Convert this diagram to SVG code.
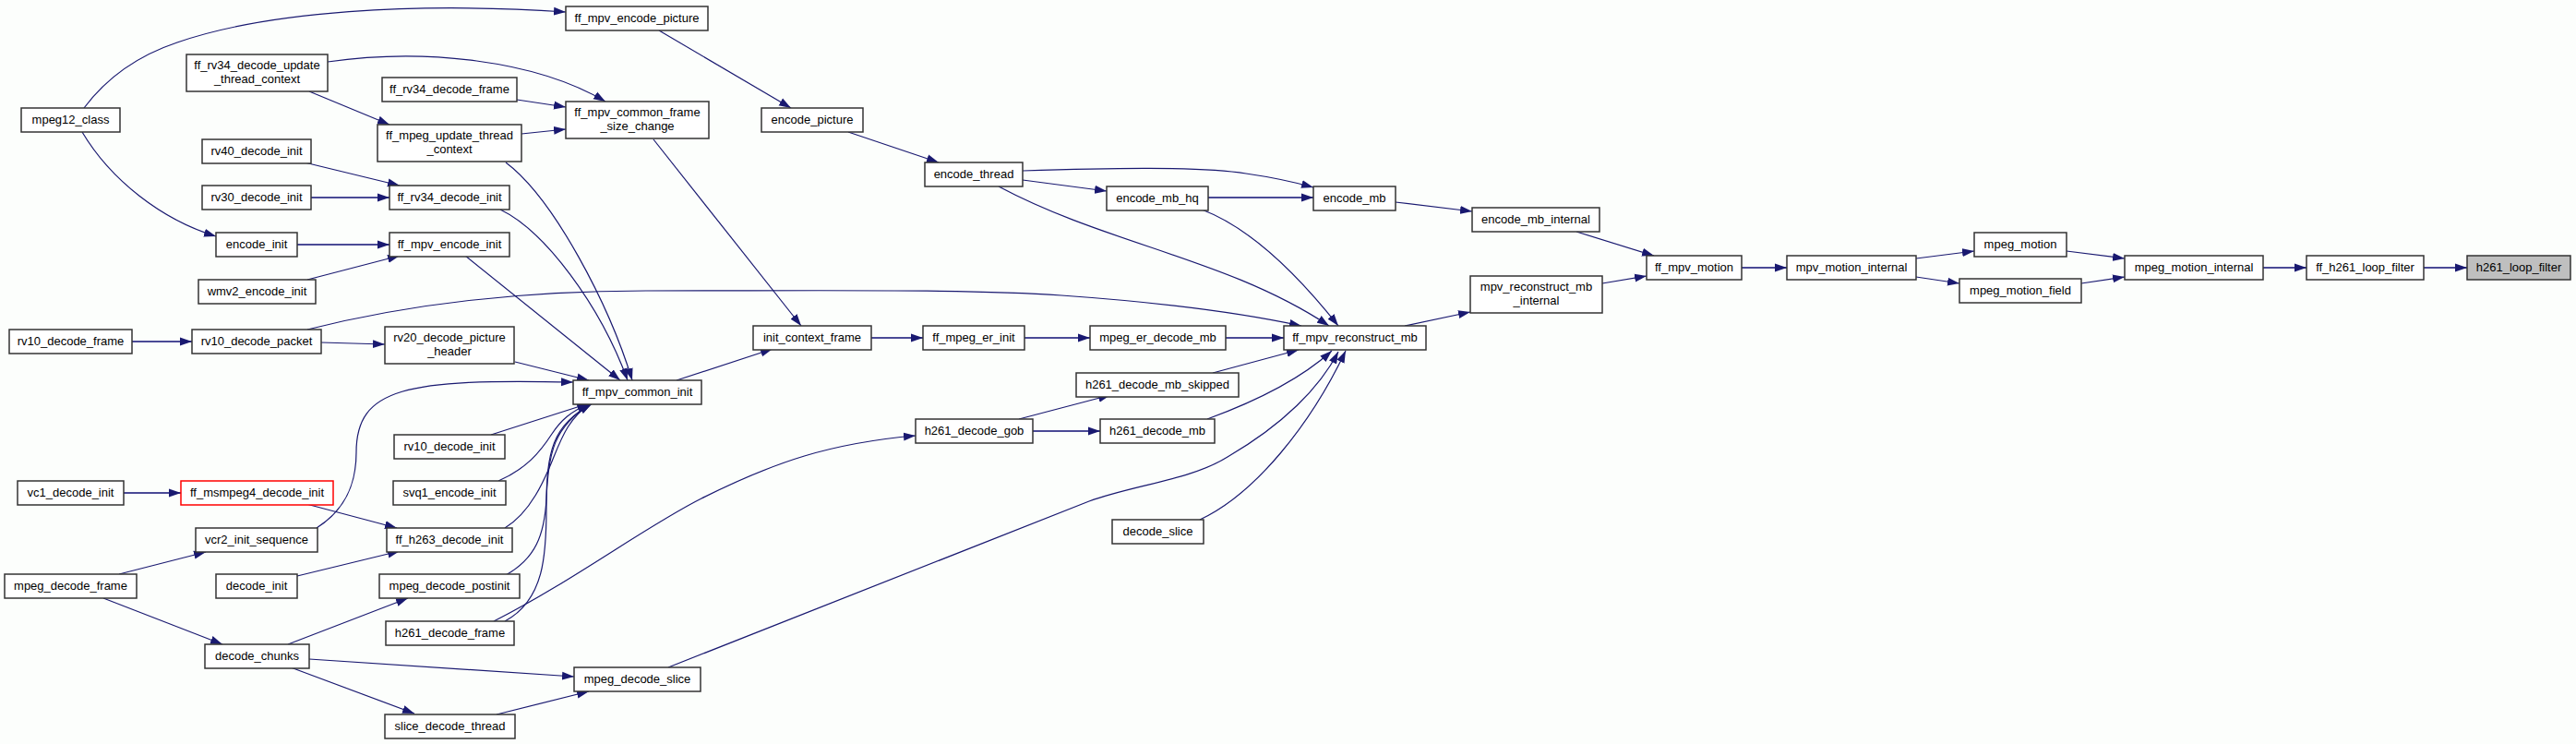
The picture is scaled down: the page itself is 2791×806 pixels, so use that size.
<svg xmlns="http://www.w3.org/2000/svg" width="2791" height="806" viewBox="0 0 2791 806">
<defs>
<style>
.n rect{fill:#ffffff;stroke:#333333;stroke-width:1.5}
.n rect.red{stroke:#ff0000}
.n rect.cur{fill:#bfbfbf}
.n text{font-family:"Liberation Sans",Arial,sans-serif;font-size:13px;text-anchor:middle;fill:#000000}
.e path{fill:none;stroke:#191970;stroke-width:1.2;marker-end:url(#a)}
.e path.h{stroke:#4a4a96;stroke-width:2}
</style>
<marker id="a" markerUnits="userSpaceOnUse" markerWidth="14" markerHeight="10" refX="13" refY="5" orient="auto" viewBox="0 0 14 10"><path d="M0,0.5 L13,5 L0,9.5 Z" fill="#191970"/></marker>
</defs>
<rect x="0" y="0" width="2791" height="806" fill="#fcfefc"/>
<g id="edges" class="e">
<path d="M91,117 C115,85 150,60 192,46 C290,12 450,2 613,13"/>
<path d="M89,143 C120,195 175,238 234,256"/>
<path d="M355,67 C460,52 580,65 656,110"/>
<path d="M335,99 L422,135"/>
<path d="M560,108 L613,116"/>
<path d="M565,145 L613,140"/>
<path d="M548,176 C600,215 660,330 685,412"/>
<path d="M330,176 L433,201"/>
<path class="h" d="M337,214 L422,214"/>
<path d="M542,227 C590,250 650,330 680,412"/>
<path class="h" d="M322,265 L422,265"/>
<path d="M333,303 L433,277"/>
<path d="M504,277 L672,412"/>
<path d="M333,357 C440,330 560,315 700,315 C900,315 1050,313 1150,320 C1250,327 1340,338 1410,353"/>
<path class="h" d="M143,370 L208,370"/>
<path d="M348,371 L417,373"/>
<path d="M558,392 L638,412"/>
<path d="M714,33 L857,117"/>
<path d="M708,151 L868,353"/>
<path d="M919,143 L1017,176"/>
<path d="M1108,185 C1200,182 1300,180 1350,188 C1385,193 1405,198 1423,203"/>
<path d="M1108,195 L1199,207"/>
<path d="M1082,202 C1200,265 1330,280 1440,353"/>
<path class="h" d="M1309,214 L1423,214"/>
<path d="M1302,227 C1350,245 1400,290 1450,353"/>
<path d="M1512,219 L1595,229"/>
<path d="M1708,251 L1792,277"/>
<path d="M1522,353 L1593,338"/>
<path d="M1736,307 L1784,299"/>
<path class="h" d="M1887,290 L1936,290"/>
<path d="M2076,280 L2139,272"/>
<path d="M2076,300 L2123,307"/>
<path d="M2239,272 L2302,280"/>
<path d="M2255,307 L2302,300"/>
<path class="h" d="M2452,290 L2499,290"/>
<path class="h" d="M2626,290 L2673,290"/>
<path d="M733,412 L837,378"/>
<path class="h" d="M944,366 L1000,366"/>
<path class="h" d="M1110,366 L1181,366"/>
<path class="h" d="M1328,366 L1391,366"/>
<path d="M1314,404 L1407,379"/>
<path d="M1308,454 C1360,435 1410,410 1443,380"/>
<path d="M1300,563 C1360,535 1420,460 1458,380"/>
<path d="M724,723 L1180,543 C1230,525 1290,520 1330,495 C1390,460 1430,420 1450,381"/>
<path d="M1104,454 L1203,428"/>
<path class="h" d="M1119,467 L1192,467"/>
<path d="M535,673 C620,630 700,570 760,540 C840,500 900,480 992,472"/>
<path d="M547,673 C590,650 592,600 592,550 C592,490 598,460 642,437"/>
<path class="h" d="M134,534 L196,534"/>
<path d="M332,546 L430,572"/>
<path d="M343,572 C370,555 386,530 386,490 C386,420 440,410 621,414"/>
<path d="M322,624 L433,597"/>
<path d="M547,572 C575,555 590,520 600,495 C610,470 618,452 640,437"/>
<path d="M129,622 L223,598"/>
<path d="M112,648 L241,698"/>
<path d="M312,698 L442,648"/>
<path d="M335,714 L622,733"/>
<path d="M315,723 L449,773"/>
<path d="M538,774 L638,749"/>
<path d="M548,623 C580,605 590,580 592,540 C594,490 600,462 641,437"/>
<path d="M532,471 L638,437"/>
<path d="M540,521 C570,508 585,490 598,470 C608,455 618,446 639,437"/>
</g>
<g id="mpeg12_class" class="n"><rect x="23" y="117" width="107" height="26"/><text x="76.5" y="134">mpeg12_class</text></g>
<g id="rv10_decode_frame" class="n"><rect x="10" y="357" width="133" height="26"/><text x="76.5" y="374">rv10_decode_frame</text></g>
<g id="vc1_decode_init" class="n"><rect x="19" y="521" width="115" height="26"/><text x="76.5" y="538">vc1_decode_init</text></g>
<g id="mpeg_decode_frame" class="n"><rect x="5" y="622" width="143" height="26"/><text x="76.5" y="639">mpeg_decode_frame</text></g>
<g id="ff_rv34_decode_update_thread_context" class="n"><rect x="202" y="59" width="153" height="40"/><text x="278.5" y="75">ff_rv34_decode_update</text><text x="278.5" y="90">_thread_context</text></g>
<g id="rv40_decode_init" class="n"><rect x="219" y="151" width="118" height="26"/><text x="278" y="168">rv40_decode_init</text></g>
<g id="rv30_decode_init" class="n"><rect x="219" y="201" width="118" height="26"/><text x="278" y="218">rv30_decode_init</text></g>
<g id="encode_init" class="n"><rect x="234" y="252" width="88" height="26"/><text x="278" y="269">encode_init</text></g>
<g id="wmv2_encode_init" class="n"><rect x="215" y="303" width="127" height="26"/><text x="278.5" y="320">wmv2_encode_init</text></g>
<g id="rv10_decode_packet" class="n"><rect x="208" y="357" width="140" height="26"/><text x="278" y="374">rv10_decode_packet</text></g>
<g id="ff_msmpeg4_decode_init" class="n"><rect class="red" x="196" y="521" width="165" height="26"/><text x="278.5" y="538">ff_msmpeg4_decode_init</text></g>
<g id="vcr2_init_sequence" class="n"><rect x="212" y="572" width="132" height="26"/><text x="278" y="589">vcr2_init_sequence</text></g>
<g id="decode_init" class="n"><rect x="234" y="622" width="88" height="26"/><text x="278" y="639">decode_init</text></g>
<g id="decode_chunks" class="n"><rect x="222" y="698" width="113" height="26"/><text x="278.5" y="715">decode_chunks</text></g>
<g id="ff_rv34_decode_frame" class="n"><rect x="414" y="84" width="146" height="26"/><text x="487" y="101">ff_rv34_decode_frame</text></g>
<g id="ff_mpeg_update_thread_context" class="n"><rect x="409" y="135" width="156" height="40"/><text x="487" y="151">ff_mpeg_update_thread</text><text x="487" y="166">_context</text></g>
<g id="ff_rv34_decode_init" class="n"><rect x="422" y="201" width="130" height="26"/><text x="487" y="218">ff_rv34_decode_init</text></g>
<g id="ff_mpv_encode_init" class="n"><rect x="422" y="252" width="130" height="26"/><text x="487" y="269">ff_mpv_encode_init</text></g>
<g id="rv20_decode_picture_header" class="n"><rect x="417" y="354" width="140" height="40"/><text x="487" y="370">rv20_decode_picture</text><text x="487" y="385">_header</text></g>
<g id="rv10_decode_init" class="n"><rect x="427" y="471" width="120" height="26"/><text x="487" y="488">rv10_decode_init</text></g>
<g id="svq1_encode_init" class="n"><rect x="426" y="521" width="122" height="26"/><text x="487" y="538">svq1_encode_init</text></g>
<g id="ff_h263_decode_init" class="n"><rect x="419" y="572" width="136" height="26"/><text x="487" y="589">ff_h263_decode_init</text></g>
<g id="mpeg_decode_postinit" class="n"><rect x="411" y="622" width="152" height="26"/><text x="487" y="639">mpeg_decode_postinit</text></g>
<g id="h261_decode_frame" class="n"><rect x="418" y="673" width="139" height="26"/><text x="487.5" y="690">h261_decode_frame</text></g>
<g id="slice_decode_thread" class="n"><rect x="417" y="774" width="141" height="26"/><text x="487.5" y="791">slice_decode_thread</text></g>
<g id="ff_mpv_encode_picture" class="n"><rect x="613" y="7" width="154" height="26"/><text x="690" y="24">ff_mpv_encode_picture</text></g>
<g id="ff_mpv_common_frame_size_change" class="n"><rect x="613" y="110" width="155" height="40"/><text x="690.5" y="126">ff_mpv_common_frame</text><text x="690.5" y="141">_size_change</text></g>
<g id="ff_mpv_common_init" class="n"><rect x="621" y="412" width="139" height="26"/><text x="690.5" y="429">ff_mpv_common_init</text></g>
<g id="mpeg_decode_slice" class="n"><rect x="622" y="723" width="137" height="26"/><text x="690.5" y="740">mpeg_decode_slice</text></g>
<g id="encode_picture" class="n"><rect x="825" y="117" width="110" height="26"/><text x="880" y="134">encode_picture</text></g>
<g id="init_context_frame" class="n"><rect x="816" y="353" width="128" height="26"/><text x="880" y="370">init_context_frame</text></g>
<g id="encode_thread" class="n"><rect x="1002" y="176" width="106" height="26"/><text x="1055" y="193">encode_thread</text></g>
<g id="ff_mpeg_er_init" class="n"><rect x="1000" y="353" width="110" height="26"/><text x="1055" y="370">ff_mpeg_er_init</text></g>
<g id="h261_decode_gob" class="n"><rect x="992" y="454" width="127" height="26"/><text x="1055.5" y="471">h261_decode_gob</text></g>
<g id="encode_mb_hq" class="n"><rect x="1199" y="202" width="110" height="26"/><text x="1254" y="219">encode_mb_hq</text></g>
<g id="mpeg_er_decode_mb" class="n"><rect x="1181" y="353" width="147" height="26"/><text x="1254.5" y="370">mpeg_er_decode_mb</text></g>
<g id="h261_decode_mb_skipped" class="n"><rect x="1166" y="404" width="176" height="26"/><text x="1254" y="421">h261_decode_mb_skipped</text></g>
<g id="h261_decode_mb" class="n"><rect x="1192" y="454" width="124" height="26"/><text x="1254" y="471">h261_decode_mb</text></g>
<g id="decode_slice" class="n"><rect x="1205" y="563" width="99" height="26"/><text x="1254.5" y="580">decode_slice</text></g>
<g id="encode_mb" class="n"><rect x="1423" y="202" width="89" height="26"/><text x="1467.5" y="219">encode_mb</text></g>
<g id="ff_mpv_reconstruct_mb" class="n"><rect x="1391" y="353" width="154" height="26"/><text x="1468" y="370">ff_mpv_reconstruct_mb</text></g>
<g id="encode_mb_internal" class="n"><rect x="1595" y="225" width="138" height="26"/><text x="1664" y="242">encode_mb_internal</text></g>
<g id="mpv_reconstruct_mb_internal" class="n"><rect x="1593" y="299" width="143" height="40"/><text x="1664.5" y="315">mpv_reconstruct_mb</text><text x="1664.5" y="330">_internal</text></g>
<g id="ff_mpv_motion" class="n"><rect x="1784" y="277" width="103" height="26"/><text x="1835.5" y="294">ff_mpv_motion</text></g>
<g id="mpv_motion_internal" class="n"><rect x="1936" y="277" width="140" height="26"/><text x="2006" y="294">mpv_motion_internal</text></g>
<g id="mpeg_motion" class="n"><rect x="2139" y="252" width="100" height="26"/><text x="2189" y="269">mpeg_motion</text></g>
<g id="mpeg_motion_field" class="n"><rect x="2123" y="302" width="132" height="26"/><text x="2189" y="319">mpeg_motion_field</text></g>
<g id="mpeg_motion_internal" class="n"><rect x="2302" y="277" width="150" height="26"/><text x="2377" y="294">mpeg_motion_internal</text></g>
<g id="ff_h261_loop_filter" class="n"><rect x="2499" y="277" width="127" height="26"/><text x="2562.5" y="294">ff_h261_loop_filter</text></g>
<g id="h261_loop_filter" class="n"><rect class="cur" x="2673" y="277" width="112" height="26"/><text x="2729" y="294">h261_loop_filter</text></g>
</svg>
